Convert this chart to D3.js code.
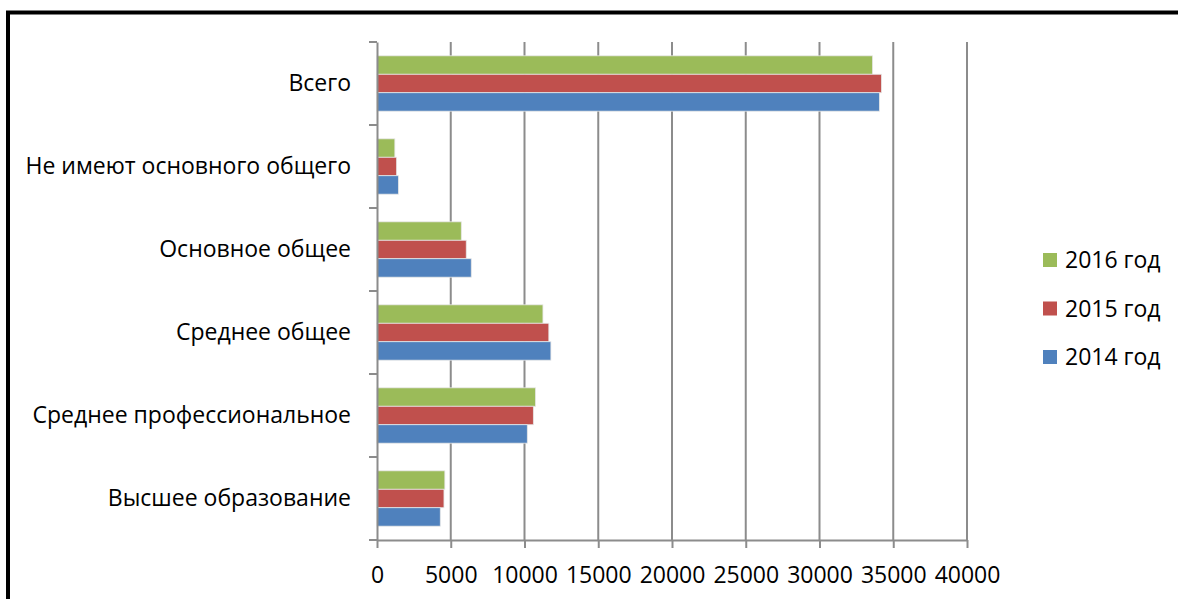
<!DOCTYPE html>
<html>
<head>
<meta charset="utf-8">
<script src="https://cdn.jsdelivr.net/npm/d3@7"></script>
<style>
  body { margin: 0; background: #fff; }
  svg { display: block; font-family: "Open Sans", sans-serif; }
</style>
</head>
<body>
<div id="chart"></div>
<script>
// education level of the population, by year
var categories = ["Всего", "Не имеют основного общего", "Основное общее",
  "Среднее общее", "Среднее профессиональное", "Высшее образование"];
var years = ["2016 год", "2015 год", "2014 год"];
var v2016 = [33600, 1210, 5715, 11250, 10750, 4600];
var v2015 = [34200, 1330, 6050, 11650, 10600, 4540];
var v2014 = [34060, 1450, 6390, 11790, 10190, 4290];
var xTicks = [0, 5000, 10000, 15000, 20000, 25000, 30000, 35000, 40000];
var colours = ["#9BBB59", "#C0504D", "#4F81BD"];

var W = 1178, H = 599;
var FS = 23;
var values = [v2016, v2015, v2014];

var svg = d3.select("#chart").append("svg")
  .attr("width", W).attr("height", H);

// frame (only top and left edges show in the picture)
svg.append("line").attr("x1", 6).attr("x2", W).attr("y1", 12.5).attr("y2", 12.5)
  .attr("stroke", "#000").attr("stroke-width", 4);
svg.append("line").attr("x1", 8).attr("x2", 8).attr("y1", 11).attr("y2", H)
  .attr("stroke", "#000").attr("stroke-width", 4);

var x = d3.scaleLinear().domain([0, 40000]).range([377, 967]);
var y = d3.scaleBand().domain(categories).range([42, 540]);
var yInner = d3.scaleBand().domain(years).range([0, y.bandwidth()]).paddingOuter(0.75);

// gridlines
svg.append("g").selectAll("line")
  .data(xTicks.slice(1))
  .enter().append("line")
  .attr("x1", function(d){ return x(d); })
  .attr("x2", function(d){ return x(d); })
  .attr("y1", 42).attr("y2", 540)
  .attr("stroke", "#8c8c8c").attr("stroke-width", 2);

// bars
var rows = [];
categories.forEach(function(c, i){
  years.forEach(function(yr, j){
    rows.push({cat: c, year: yr, value: values[j][i], colour: colours[j]});
  });
});

svg.append("g").selectAll("rect")
  .data(rows)
  .enter().append("rect")
  .attr("x", x(0))
  .attr("y", function(d){ return y(d.cat) + yInner(d.year); })
  .attr("width", function(d){ return x(d.value) - x(0); })
  .attr("height", yInner.bandwidth())
  .attr("fill", function(d){ return d.colour; })
  .attr("stroke", "#e6e6e6").attr("stroke-width", 0.8);

// x axis
var xAxis = svg.append("g")
  .attr("transform", "translate(0,540)")
  .call(d3.axisBottom(x).tickValues(xTicks).tickFormat(d3.format("d"))
    .tickSize(8).tickPadding(19).tickSizeOuter(0));
xAxis.select(".domain").attr("stroke", "#8c8c8c").attr("stroke-width", 2);
xAxis.selectAll(".tick line").attr("stroke", "#8c8c8c").attr("stroke-width", 2);
xAxis.selectAll("text").attr("font-size", FS).attr("fill", "#000")
  .attr("font-family", "Open Sans, sans-serif");

// y axis
var yAxis = svg.append("g")
  .attr("transform", "translate(377,0)")
  .call(d3.axisLeft(y).tickSize(0).tickPadding(26));
yAxis.select(".domain").attr("stroke", "#8c8c8c").attr("stroke-width", 2);
yAxis.selectAll("text").attr("font-size", FS).attr("fill", "#000")
  .attr("font-family", "Open Sans, sans-serif");

// category tick marks sit on band edges
svg.append("g").selectAll("line")
  .data(d3.range(categories.length + 1))
  .enter().append("line")
  .attr("x1", 369).attr("x2", 377)
  .attr("y1", function(i){ return 42 + i * y.step(); })
  .attr("y2", function(i){ return 42 + i * y.step(); })
  .attr("stroke", "#8c8c8c").attr("stroke-width", 2);

// legend
var legend = svg.append("g").selectAll("g")
  .data(years)
  .enter().append("g")
  .attr("transform", function(d, i){ return "translate(1043," + (260 + i * 48.5) + ")"; });
legend.append("rect")
  .attr("x", 0).attr("y", -7).attr("width", 14).attr("height", 14)
  .attr("fill", function(d, i){ return colours[i]; });
legend.append("text")
  .attr("x", 22).attr("y", 0).attr("dy", "0.35em")
  .attr("font-size", FS)
  .text(function(d){ return d; });
</script>
</body>
</html>
